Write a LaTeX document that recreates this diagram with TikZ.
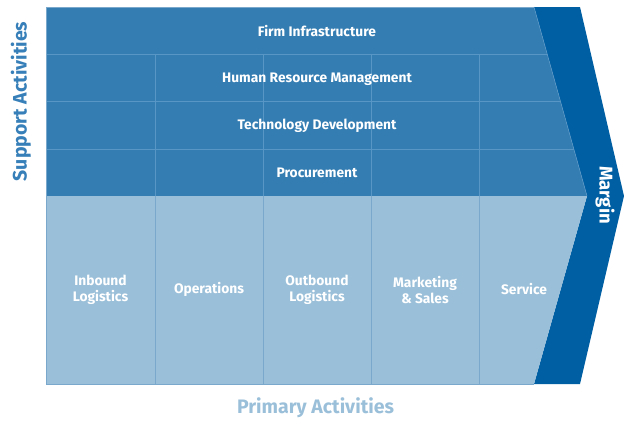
\documentclass[tikz,border=0pt]{standalone}
\usepackage{fontspec}
\setmainfont{Fira Sans}
\definecolor{supfill}{RGB}{52,125,178}
\definecolor{supline}{RGB}{88,150,198}
\definecolor{marg}{RGB}{0,94,162}
\definecolor{primfill}{RGB}{154,191,217}
\definecolor{primline}{RGB}{122,168,204}
\definecolor{suptext}{RGB}{54,127,184}
\definecolor{primtext}{RGB}{154,191,217}
\tikzset{
  boxtext/.style={text=white,font=\bfseries\fontsize{13.8}{15.5}\selectfont,align=center,inner sep=0pt},
  sidetext/.style={font=\bfseries\fontsize{19.5}{21}\selectfont,inner sep=0pt},
  sep/.style={line width=0.8pt}
}
\begin{document}
\begin{tikzpicture}[x=1pt,y=-1pt]
\useasboundingbox (0,0) rectangle (624,421);
% margin chevron
\fill[marg] (534,7) -- (580,7) -- (624,196) -- (580,384) -- (534,384) -- (587,196) -- cycle;
% support region
\fill[supfill] (46,7) -- (534,7) -- (587,196) -- (46,196) -- cycle;
% primary region
\fill[primfill] (46,196) -- (587,196) -- (534,384) -- (46,384) -- cycle;
% support separators
\draw[supline,sep] (46,54) -- (547.2,54);
\draw[supline,sep] (46,101) -- (560.4,101);
\draw[supline,sep] (46,149) -- (573.8,149);
\foreach \x in {155,263,371,479} {
  \draw[supline,sep] (\x,54) -- (\x,196);
  \draw[primline,sep] (\x,196) -- (\x,384);
}
% outline
\draw[primline,line width=0.6pt] (534,7) -- (46,7) -- (46,384) -- (534,384);
\draw[supline,line width=0.6pt] (534,7) -- (587,196);
% texts
\node[boxtext] (fi) at (317,31.5) {Firm Infrastructure};
\node[boxtext] (hrm) at (317,79) {Human Resource Management};
\node[boxtext] (td) at (317,126) {Technology Development};
\node[boxtext] (pr) at (317,173) {Procurement};
\node[boxtext] (il) at (100.5,290) {Inbound\\Logistics};
\node[boxtext] (op) at (209,289.5) {Operations};
\node[boxtext] (ol) at (317,290) {Outbound\\Logistics};
\node[boxtext] (ms) at (425,290) {Marketing\\\& Sales};
\node[boxtext] (sv) at (524,289.5) {Service};
\node[boxtext,rotate=-90,font=\bfseries\fontsize{18.5}{20}\selectfont] (mg) at (605,195) {Margin};
\node[sidetext,text=suptext,rotate=90] (sa) at (21,101.5) {Support Activities};
\node[sidetext,text=primtext] (pa) at (315.5,408) {Primary Activities};
\end{tikzpicture}
\end{document}
